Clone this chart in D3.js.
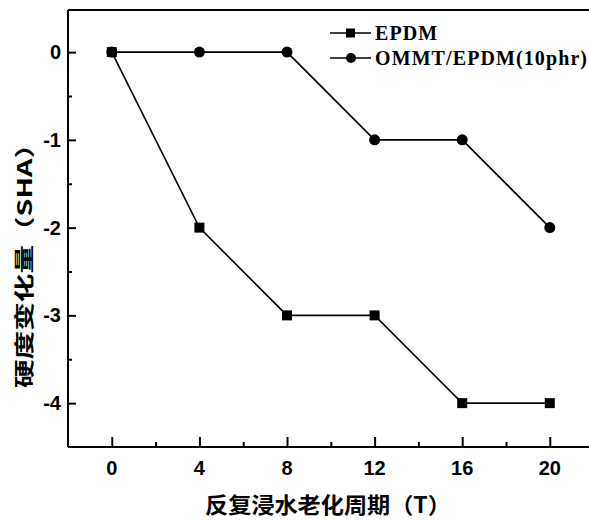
<!DOCTYPE html>
<html>
<head>
<meta charset="utf-8">
<script src="https://cdn.jsdelivr.net/npm/d3@7"></script>
<style>
  body { margin: 0; background: #fff; }
  svg { display: block; }
</style>
</head>
<body>
<div id="chart"></div>
<script>
// data
var cycles = [0, 4, 8, 12, 16, 20];
var epdm = [0, -2, -3, -3, -4, -4];
var ommt = [0, 0, 0, -1, -1, -2];
var seriesNames = ["EPDM", "OMMT/EPDM(10phr)"];
var xTicks = [0, 4, 8, 12, 16, 20];
var yTicks = [0, -1, -2, -3, -4];
var xTitle = "反复浸水老化周期（T）";
var yTitle = "硬度变化量（SHA）";

var W = 589, H = 521;
var svg = d3.select("#chart").append("svg")
    .attr("width", W).attr("height", H);

var x = d3.scaleLinear().domain([-2, 22]).range([68, 593.6]);
var y = d3.scaleLinear().domain([-4.5, 0.48]).range([447, 10]);

var black = "#000";

// frame: left, bottom, top
svg.append("line").attr("x1", x(-2)).attr("x2", x(-2)).attr("y1", y(-4.5)).attr("y2", y(0.48))
    .attr("stroke", black).attr("stroke-width", 2);
svg.append("line").attr("x1", x(-2)).attr("x2", x(22)).attr("y1", y(-4.5)).attr("y2", y(-4.5))
    .attr("stroke", black).attr("stroke-width", 2);
svg.append("line").attr("x1", x(-2)).attr("x2", x(22)).attr("y1", y(0.48)).attr("y2", y(0.48))
    .attr("stroke", black).attr("stroke-width", 2);

// x axis ticks (inward)
var xAxis = svg.append("g").attr("transform", "translate(0," + y(-4.5) + ")");
xAxis.call(d3.axisTop(x).tickValues(xTicks).tickSize(10).tickFormat(""));
xAxis.append("g").call(d3.axisTop(x).tickValues([2, 6, 10, 14, 18]).tickSize(5).tickFormat(""));
xAxis.selectAll(".domain").remove();
xAxis.selectAll("line").attr("stroke", black).attr("stroke-width", 2);

svg.append("g").selectAll("text").data(xTicks).enter().append("text")
    .attr("x", function(d) { return x(d); })
    .attr("y", 475)
    .attr("text-anchor", "middle")
    .attr("fill", black)
    .style("font-family", "'Liberation Sans', Arial, sans-serif")
    .style("font-weight", "bold")
    .style("font-size", "20px")
    .text(function(d) { return d; });

// y axis ticks (inward)
var yAxis = svg.append("g").attr("transform", "translate(" + x(-2) + ",0)");
yAxis.call(d3.axisRight(y).tickValues(yTicks).tickSize(8).tickFormat(""));
yAxis.append("g").call(d3.axisRight(y).tickValues([-0.5, -1.5, -2.5, -3.5]).tickSize(4).tickFormat(""));
yAxis.selectAll(".domain").remove();
yAxis.selectAll("line").attr("stroke", black).attr("stroke-width", 2);

svg.append("g").selectAll("text").data(yTicks).enter().append("text")
    .attr("x", 61)
    .attr("y", function(d) { return y(d) + 7; })
    .attr("text-anchor", "end")
    .attr("fill", black)
    .style("font-family", "'Liberation Sans', Arial, sans-serif")
    .style("font-weight", "bold")
    .style("font-size", "20px")
    .text(function(d) { return d; });

// axis titles
svg.append("text")
    .attr("x", 205).attr("y", 513)
    .attr("textLength", 246).attr("lengthAdjust", "spacingAndGlyphs")
    .style("font-family", "'Noto Sans CJK SC', sans-serif")
    .style("font-weight", "bold")
    .style("font-size", "22px")
    .text(xTitle);

svg.append("text")
    .attr("transform", "translate(32,388) rotate(-90)")
    .attr("textLength", 258).attr("lengthAdjust", "spacingAndGlyphs")
    .style("font-family", "'Noto Sans CJK SC', sans-serif")
    .style("font-weight", "bold")
    .style("font-size", "20px")
    .text(yTitle);

// lines + markers
var line = d3.line()
    .x(function(d) { return x(d[0]); })
    .y(function(d) { return y(d[1]); });

var epdmPts = cycles.map(function(c, i) { return [c, epdm[i]]; });
var ommtPts = cycles.map(function(c, i) { return [c, ommt[i]]; });

svg.append("path").datum(epdmPts)
    .attr("fill", "none").attr("stroke", black).attr("stroke-width", 1.6)
    .attr("d", line);
svg.append("path").datum(ommtPts)
    .attr("fill", "none").attr("stroke", black).attr("stroke-width", 1.6)
    .attr("d", line);

svg.append("g").selectAll("rect").data(epdmPts).enter().append("rect")
    .attr("x", function(d) { return x(d[0]) - 5; })
    .attr("y", function(d) { return y(d[1]) - 5; })
    .attr("width", 10).attr("height", 10)
    .attr("fill", black);

svg.append("g").selectAll("circle").data(ommtPts).enter().append("circle")
    .attr("cx", function(d) { return x(d[0]); })
    .attr("cy", function(d) { return y(d[1]); })
    .attr("r", 5.5)
    .attr("fill", black);

// legend
var legend = svg.append("g");
var legY = [33, 58];
seriesNames.forEach(function(name, i) {
    legend.append("line")
        .attr("x1", 330).attr("x2", 371)
        .attr("y1", legY[i]).attr("y2", legY[i])
        .attr("stroke", black).attr("stroke-width", 1.6);
    if (i === 0) {
        legend.append("rect").attr("x", 346).attr("y", legY[i] - 4.5)
            .attr("width", 9).attr("height", 9).attr("fill", black);
    } else {
        legend.append("circle").attr("cx", 351).attr("cy", legY[i])
            .attr("r", 5).attr("fill", black);
    }
    legend.append("text")
        .attr("x", 375).attr("y", legY[i] + 7)
        .style("font-family", "'Liberation Serif', 'Times New Roman', serif")
        .style("font-weight", "bold")
        .style("font-size", "20px")
        .style("letter-spacing", "1.1px")
        .text(name);
});
</script>
</body>
</html>
